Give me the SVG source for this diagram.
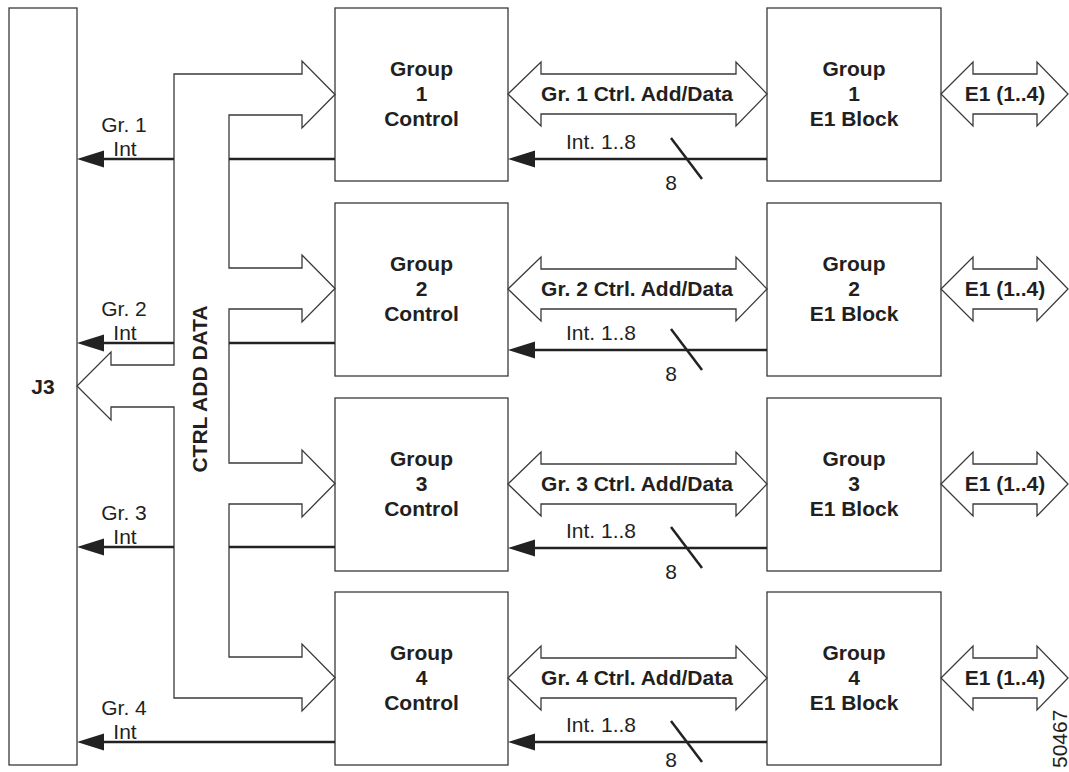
<svg xmlns="http://www.w3.org/2000/svg" width="1069" height="772" viewBox="0 0 1069 772">
  <style>
    .box { fill: #ffffff; stroke: #3a3a3a; stroke-width: 1.3; }
    .bus { fill: none; stroke: #3a3a3a; stroke-width: 1.3; stroke-linejoin: miter; }
    .int { fill: none; stroke: #222222; stroke-width: 2.5; }
    .slash { stroke: #222222; stroke-width: 2.5; }
    .t { font-family: "Liberation Sans", Arial, Helvetica, sans-serif; font-size: 21px; fill: #231f20; }
    .b { font-weight: bold; }
    .c { text-anchor: middle; }
  </style>
  <defs>
    <marker id="head" viewBox="0 -9 27 18" refX="9" refY="0" markerWidth="27" markerHeight="18" markerUnits="userSpaceOnUse" orient="auto">
      <path d="M0,-8.5 L27,0 L0,8.5 Z" fill="#222222"/>
    </marker>
  </defs>

  <!-- J3 connector -->
  <g id="j3">
    <rect class="box" x="9" y="8" width="68" height="757"/>
    <text class="t b c" x="43" y="394">J3</text>
  </g>

  <!-- Control blocks -->
  <g id="ctrl1">
    <rect class="box" x="335" y="8" width="173" height="173"/>
    <text class="t b c" x="421.5" y="76">Group</text>
    <text class="t b c" x="421.5" y="101">1</text>
    <text class="t b c" x="421.5" y="126">Control</text>
  </g>
  <g id="ctrl2">
    <rect class="box" x="335" y="203" width="173" height="173"/>
    <text class="t b c" x="421.5" y="271">Group</text>
    <text class="t b c" x="421.5" y="296">2</text>
    <text class="t b c" x="421.5" y="321">Control</text>
  </g>
  <g id="ctrl3">
    <rect class="box" x="335" y="398" width="173" height="173"/>
    <text class="t b c" x="421.5" y="466">Group</text>
    <text class="t b c" x="421.5" y="491">3</text>
    <text class="t b c" x="421.5" y="516">Control</text>
  </g>
  <g id="ctrl4">
    <rect class="box" x="335" y="592" width="173" height="173"/>
    <text class="t b c" x="421.5" y="660">Group</text>
    <text class="t b c" x="421.5" y="685">4</text>
    <text class="t b c" x="421.5" y="710">Control</text>
  </g>

  <!-- E1 blocks -->
  <g id="e1blk1">
    <rect class="box" x="767" y="8" width="174" height="173"/>
    <text class="t b c" x="854" y="76">Group</text>
    <text class="t b c" x="854" y="101">1</text>
    <text class="t b c" x="854" y="126">E1 Block</text>
  </g>
  <g id="e1blk2">
    <rect class="box" x="767" y="203" width="174" height="173"/>
    <text class="t b c" x="854" y="271">Group</text>
    <text class="t b c" x="854" y="296">2</text>
    <text class="t b c" x="854" y="321">E1 Block</text>
  </g>
  <g id="e1blk3">
    <rect class="box" x="767" y="398" width="174" height="173"/>
    <text class="t b c" x="854" y="466">Group</text>
    <text class="t b c" x="854" y="491">3</text>
    <text class="t b c" x="854" y="516">E1 Block</text>
  </g>
  <g id="e1blk4">
    <rect class="box" x="767" y="592" width="174" height="173"/>
    <text class="t b c" x="854" y="660">Group</text>
    <text class="t b c" x="854" y="685">4</text>
    <text class="t b c" x="854" y="710">E1 Block</text>
  </g>

  <g id="connectors">
    <!-- shared control/address/data bus from J3 to every control block -->
    <path class="bus" d="M174,74 H302 V61 L335,94.5 L302,128 V115 H229 V268 H302 V255 L335,288.5 L302,322 V309 H229 V463 H302 V450 L335,483.5 L302,517 V504 H229 V657 H302 V644 L335,677.5 L302,711 V698 H174 V407 H111 V420 L77,386 L111,352 V365 H174 Z"/>
    <text class="t b c" font-size="20" transform="translate(207,389) rotate(-90)">CTRL ADD DATA</text>

    <!-- control to E1 block buses -->
    <path class="bus" d="M508,94 L541,62 V74 H736 V62 L767,94 L736,126 V114 H541 V126 Z"/>
    <path class="bus" d="M508,289 L541,257 V269 H736 V257 L767,289 L736,321 V309 H541 V321 Z"/>
    <path class="bus" d="M508,484 L541,452 V464 H736 V452 L767,484 L736,516 V504 H541 V516 Z"/>
    <path class="bus" d="M508,678 L541,646 V658 H736 V646 L767,678 L736,710 V698 H541 V710 Z"/>
    <text class="t b c" x="637" y="101">Gr. 1 Ctrl. Add/Data</text>
    <text class="t b c" x="637" y="296">Gr. 2 Ctrl. Add/Data</text>
    <text class="t b c" x="637" y="491">Gr. 3 Ctrl. Add/Data</text>
    <text class="t b c" x="637" y="685">Gr. 4 Ctrl. Add/Data</text>

    <!-- E1 line ports -->
    <path class="bus" d="M941,94 L973,62 V74 H1037 V62 L1068,94 L1037,126 V114 H973 V126 Z"/>
    <path class="bus" d="M941,289 L973,257 V269 H1037 V257 L1068,289 L1037,321 V309 H973 V321 Z"/>
    <path class="bus" d="M941,484 L973,452 V464 H1037 V452 L1068,484 L1037,516 V504 H973 V516 Z"/>
    <path class="bus" d="M941,678 L973,646 V658 H1037 V646 L1068,678 L1037,710 V698 H973 V710 Z"/>
    <text class="t b c" x="1005" y="101">E1 (1..4)</text>
    <text class="t b c" x="1005" y="296">E1 (1..4)</text>
    <text class="t b c" x="1005" y="491">E1 (1..4)</text>
    <text class="t b c" x="1005" y="685">E1 (1..4)</text>

    <!-- interrupt lines, E1 block to control -->
    <path class="int" d="M767,159 H526" marker-end="url(#head)"/>
    <path class="int" d="M767,350 H526" marker-end="url(#head)"/>
    <path class="int" d="M767,548 H526" marker-end="url(#head)"/>
    <path class="int" d="M767,742 H526" marker-end="url(#head)"/>
    <line class="slash" x1="671" y1="138" x2="702" y2="179"/>
    <line class="slash" x1="671" y1="329" x2="702" y2="370"/>
    <line class="slash" x1="671" y1="527" x2="702" y2="568"/>
    <line class="slash" x1="671" y1="721" x2="702" y2="762"/>
    <text class="t" x="566" y="149">Int. 1..8</text>
    <text class="t" x="566" y="340">Int. 1..8</text>
    <text class="t" x="566" y="538">Int. 1..8</text>
    <text class="t" x="566" y="732">Int. 1..8</text>
    <text class="t c" x="671" y="190">8</text>
    <text class="t c" x="671" y="381">8</text>
    <text class="t c" x="671" y="579">8</text>
    <text class="t c" x="671" y="767">8</text>

    <!-- interrupt lines, control to J3 -->
    <path class="int" d="M335,159 H229"/>
    <path class="int" d="M174,159 H95" marker-end="url(#head)"/>
    <path class="int" d="M335,343 H229"/>
    <path class="int" d="M174,343 H95" marker-end="url(#head)"/>
    <path class="int" d="M335,547 H229"/>
    <path class="int" d="M174,547 H95" marker-end="url(#head)"/>
    <path class="int" d="M335,742 H95" marker-end="url(#head)"/>
    <text class="t c" x="124" y="132">Gr. 1</text>
    <text class="t c" x="125" y="156">Int</text>
    <text class="t c" x="124" y="316">Gr. 2</text>
    <text class="t c" x="125" y="340">Int</text>
    <text class="t c" x="124" y="520">Gr. 3</text>
    <text class="t c" x="125" y="544">Int</text>
    <text class="t c" x="124" y="715">Gr. 4</text>
    <text class="t c" x="125" y="739">Int</text>
  </g>

  <text class="t" font-size="13" transform="translate(1067,768) rotate(-90)">50467</text>
</svg>
